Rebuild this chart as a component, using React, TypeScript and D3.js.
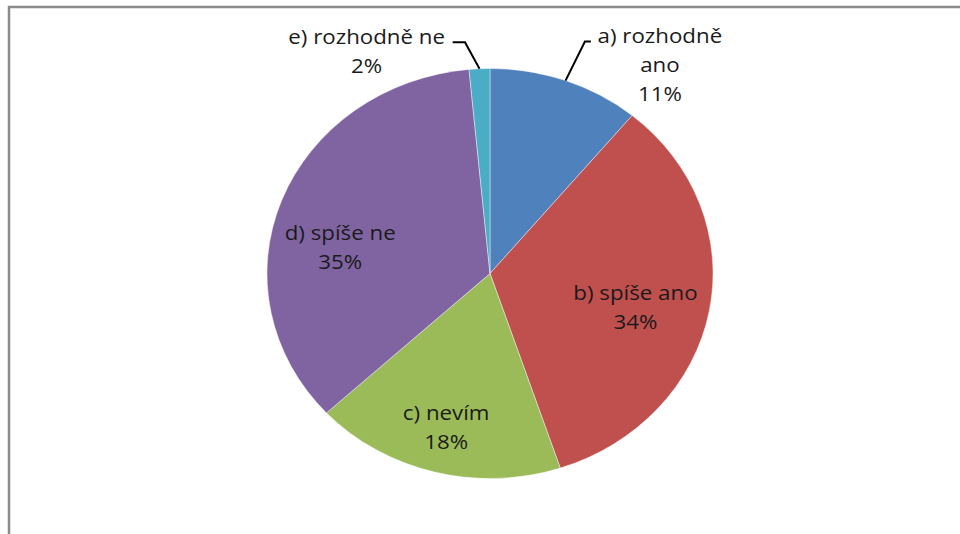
import React from "react";
import * as d3 from "d3";

const categories = ["a) rozhodně ano", "b) spíše ano", "c) nevím", "d) spíše ne", "e) rozhodně ne"];
const labelLines = [["a) rozhodně", "ano"], ["b) spíše ano"], ["c) nevím"], ["d) spíše ne"], ["e) rozhodně ne"]];
const values = [11.0, 33.9, 18.2, 35.4, 1.5];
const colors = ["#4F81BD", "#C0504D", "#9BBB59", "#8064A2", "#4BACC6"];

// layout (not data)
const W = 960, H = 534;
const CX = 490, CY = 273.5, RX = 223, RY = 205;
const labelRadius = 0.7;
// nudges of first-line baseline relative to 0.7-radius centroid
const nudges: [number, number][] = [[117, -95], [-8, 0], [-5, 8], [-4, 18], [-116, -86]];
const outside = [true, false, false, false, true];
const elbowDx = [19.4, 0, 0, 0, -14.5];
const textStretch = RX / RY;

export default function App() {
  const total = d3.sum(values);
  const pie = d3.pie<number>().sort(null).value((d) => d)(values);
  const arc = d3.arc<d3.PieArcDatum<number>>().innerRadius(0).outerRadius(RY);
  const sx = RX / RY;
  const lineH = 29;

  return (
    <svg width={W} height={H} style={{ position: "absolute", left: 0, top: 0, background: "#fff" }}
      fontFamily="'Open Sans', sans-serif">
      <rect x={9} y={7} width={2000} height={2000} fill="#fff" stroke="#8a8a8a" strokeWidth={2.5} />
      <g transform={`translate(${CX},${CY}) scale(${sx},1)`}>
        {pie.map((p, i) => (
          <path key={i} d={arc(p) || ""} fill={colors[i]} stroke="#fff" strokeWidth={0.4} />
        ))}
      </g>
      {pie.map((p, i) => {
        const mid = (p.startAngle + p.endAngle) / 2;
        const ux = Math.sin(mid), uy = -Math.cos(mid);
        const bx = CX + labelRadius * RX * ux + nudges[i][0];
        const by = CY + labelRadius * RY * uy + nudges[i][1];
        const pct = `${Math.round((values[i] / total) * 100)}%`;
        const lines = [...labelLines[i], pct];
        let leader = null;
        if (outside[i]) {
          const ex = CX + RX * ux, ey = CY + RY * uy;
          const ly = by - 2;
          const ax = ex + elbowDx[i];
          const tx = i === 0 ? bx - 69 : bx + 86;
          leader = (
            <polyline points={`${ex},${ey} ${ax},${ly} ${tx},${ly}`} fill="none" stroke="#000" strokeWidth={2} />
          );
        }
        return (
          <g key={categories[i]}>
            {leader}
            <g transform={`translate(${bx},${by}) scale(${textStretch},1)`}>
              <text x={0} y={0} textAnchor="middle" fontSize={20.5} fill="#1a1a1a">
                {lines.map((l, j) => (
                  <tspan key={j} x={0} y={j * lineH}>{l}</tspan>
                ))}
              </text>
            </g>
          </g>
        );
      })}
    </svg>
  );
}
